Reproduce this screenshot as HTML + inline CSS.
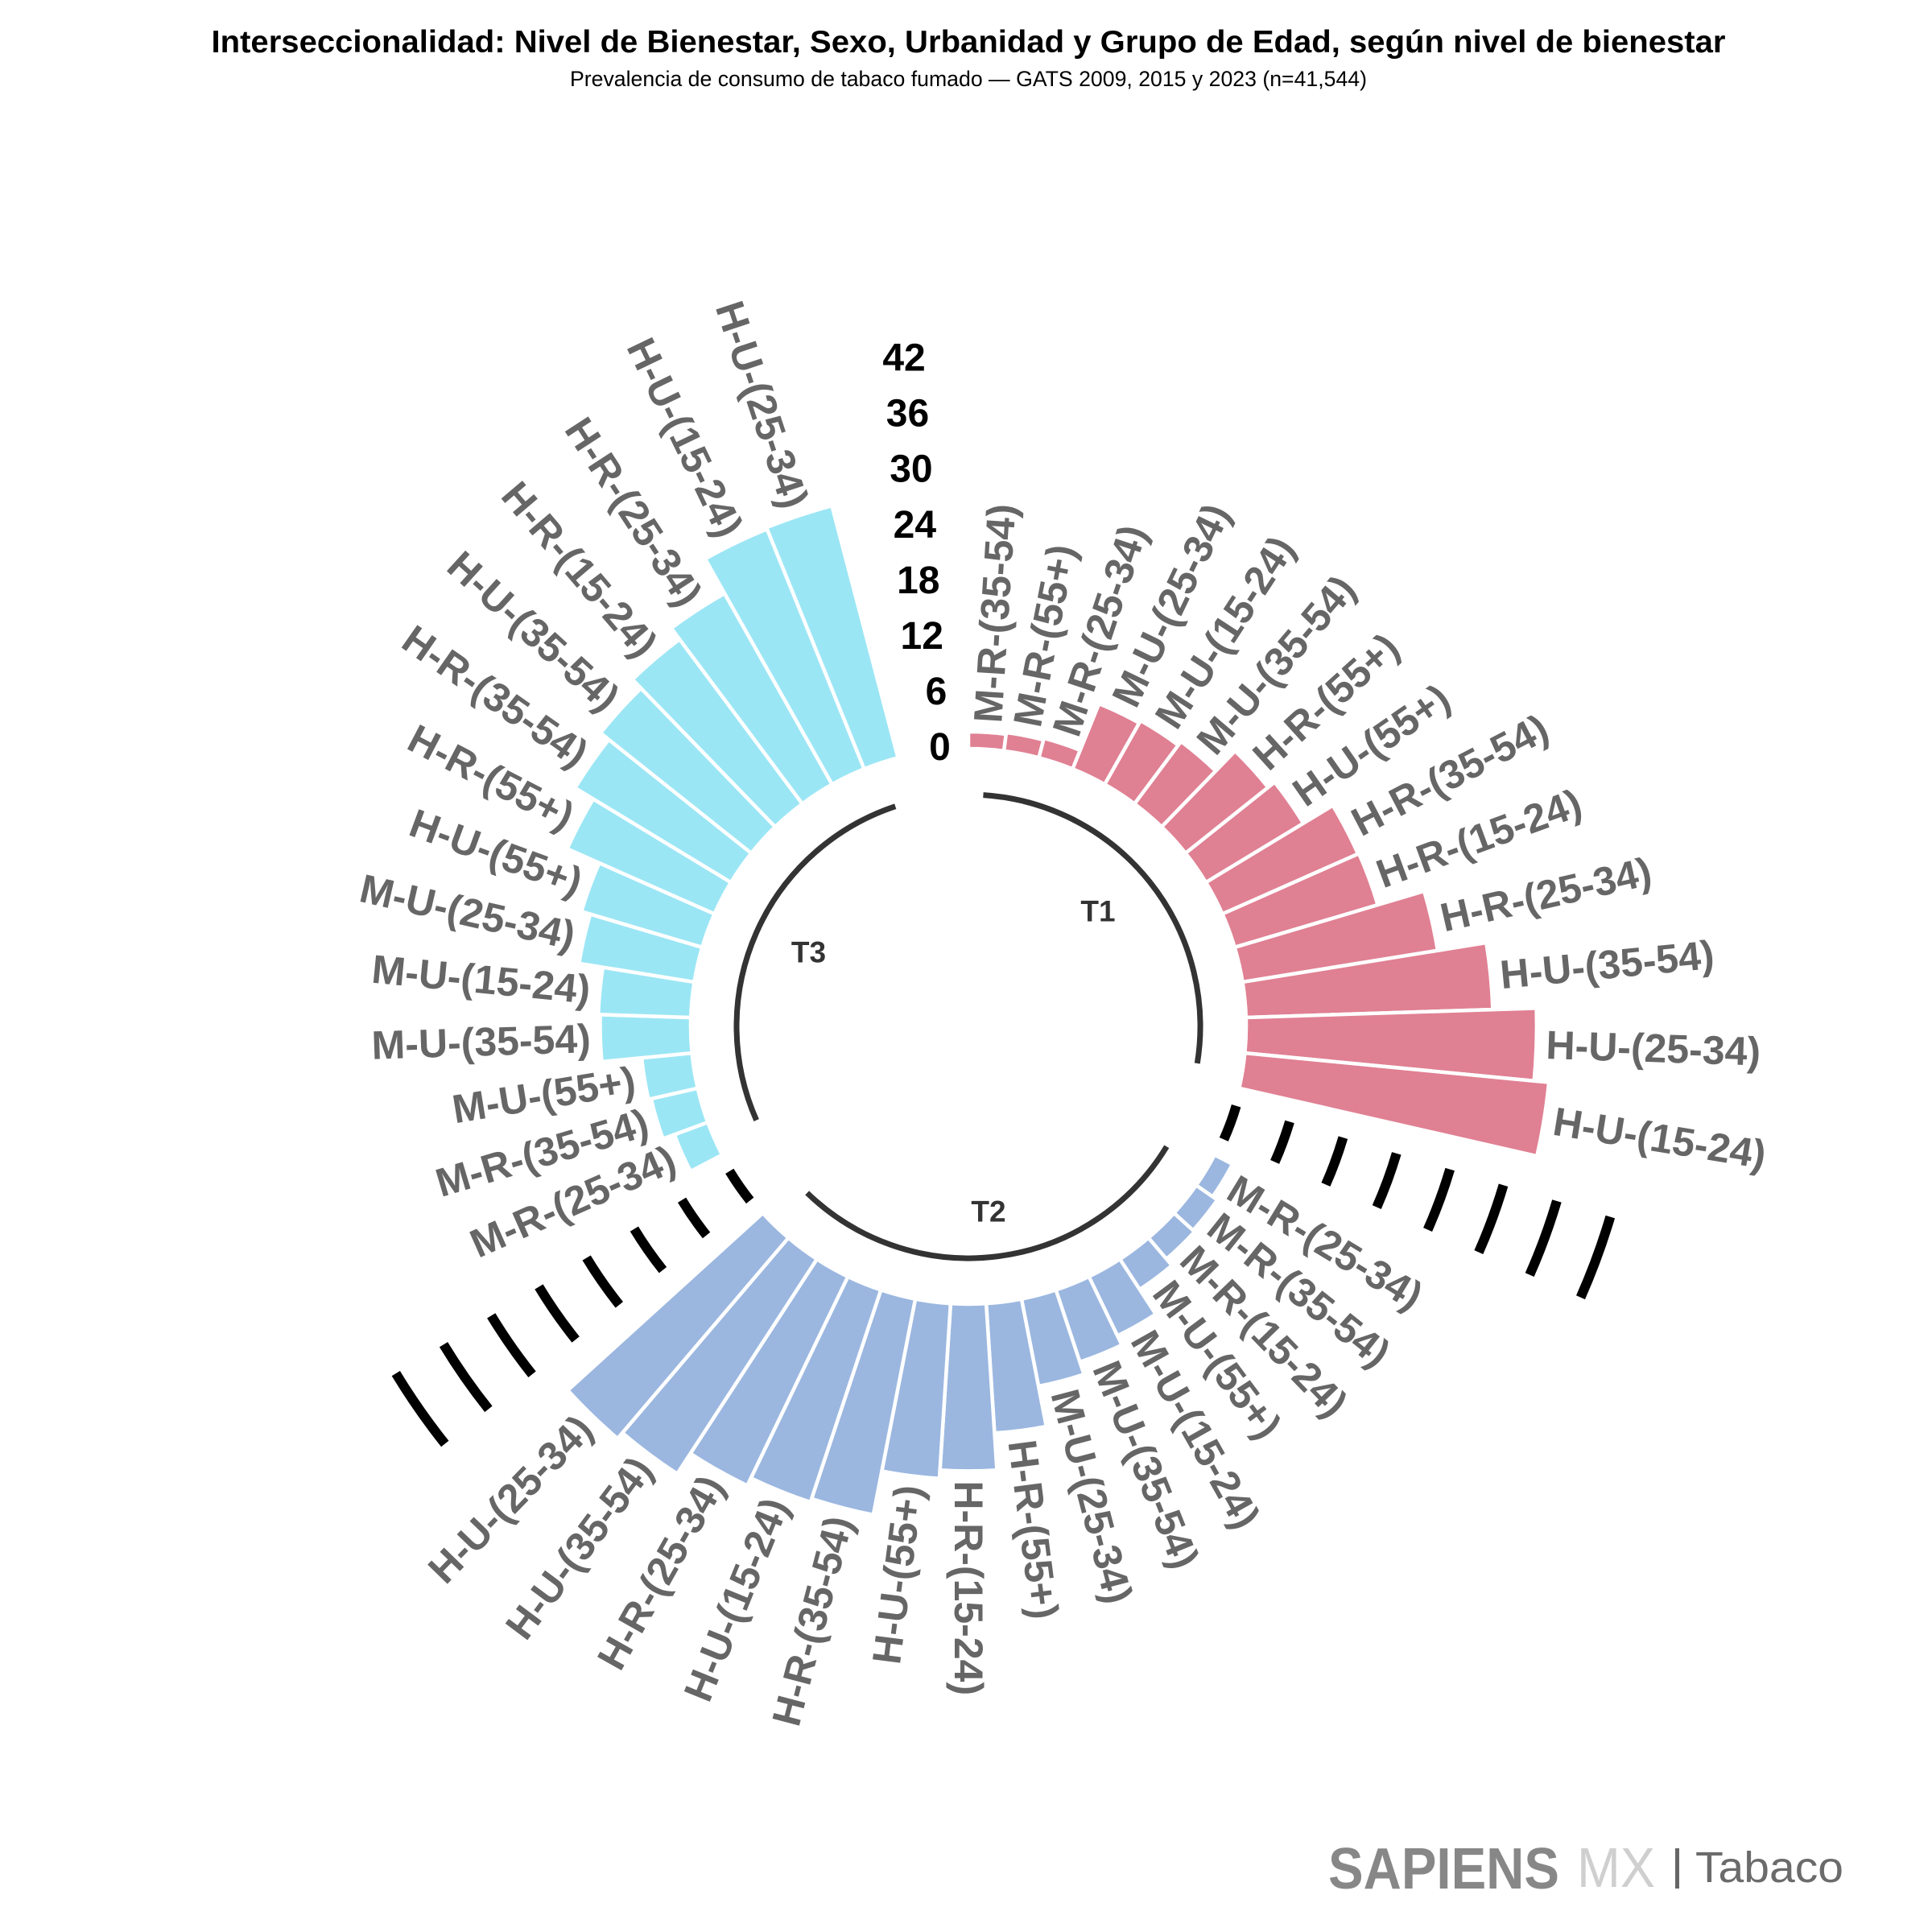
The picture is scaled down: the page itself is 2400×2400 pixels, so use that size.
<!DOCTYPE html>
<html><head><meta charset="utf-8"><style>
html,body{margin:0;padding:0;background:#fff}
svg{display:block}
.lb{font-family:"Liberation Sans",Arial,sans-serif;font-weight:bold;font-size:50px;fill:#666666;dominant-baseline:central}
.e{text-anchor:end}
.yl{font-family:"Liberation Sans",Arial,sans-serif;font-weight:bold;font-size:48px;fill:#000;text-anchor:end;dominant-baseline:central}
.tl{font-family:"Liberation Sans",Arial,sans-serif;font-weight:bold;font-size:37px;fill:#333;text-anchor:middle;dominant-baseline:central}
</style></head><body>
<svg width="2400" height="2400" viewBox="0 0 2400 2400" xmlns="http://www.w3.org/2000/svg">
<rect width="2400" height="2400" fill="#fff"/>
<text x="1203" y="65" text-anchor="middle" font-family="Liberation Sans, Arial, sans-serif" font-weight="bold" font-size="39" textLength="1881" lengthAdjust="spacingAndGlyphs" fill="#000">Interseccionalidad: Nivel de Bienestar, Sexo, Urbanidad y Grupo de Edad, según nivel de bienestar</text>
<text x="1203" y="107" text-anchor="middle" font-family="Liberation Sans, Arial, sans-serif" font-size="27" textLength="990" lengthAdjust="spacingAndGlyphs" fill="#000">Prevalencia de consumo de tabaco fumado — GATS 2009, 2015 y 2023 (n=41,544)</text>
<defs>
<g id="mk" fill="none" stroke="#000" stroke-width="12">
<path d="M-22.23-346.29A347 347 0 0 1 22.23-346.29"/>
<path d="M-26.67-415.38A416.24 416.24 0 0 1 26.67-415.38"/>
<path d="M-31.10-484.48A485.48 485.48 0 0 1 31.10-484.48"/>
<path d="M-35.54-553.58A554.72 554.72 0 0 1 35.54-553.58"/>
<path d="M-39.98-622.68A623.96 623.96 0 0 1 39.98-622.68"/>
<path d="M-44.41-691.78A693.2 693.2 0 0 1 44.41-691.78"/>
<path d="M-48.85-760.87A762.44 762.44 0 0 1 48.85-760.87"/>
<path d="M-53.29-829.97A831.68 831.68 0 0 1 53.29-829.97"/>
</g>
</defs>
<g transform="translate(1203,1275)">
<g fill="#E08093" stroke="#fff" stroke-width="4.5">
<path transform="rotate(3.673)" d="M-22.1-344.29L-23.45-365.25A366 366 0 0 1 23.45-365.25L22.1-344.29A345 345 0 0 0-22.1-344.29Z"/>
<path transform="rotate(11.020)" d="M-22.1-344.29L-23.58-367.24A368 368 0 0 1 23.58-367.24L22.1-344.29A345 345 0 0 0-22.1-344.29Z"/>
<path transform="rotate(18.367)" d="M-22.1-344.29L-23.71-369.24A370 370 0 0 1 23.71-369.24L22.1-344.29A345 345 0 0 0-22.1-344.29Z"/>
<path transform="rotate(25.714)" d="M-22.1-344.29L-27.71-431.61A432.5 432.5 0 0 1 27.71-431.61L22.1-344.29A345 345 0 0 0-22.1-344.29Z"/>
<path transform="rotate(33.061)" d="M-22.1-344.29L-27.93-435.00A435.9 435.9 0 0 1 27.93-435.00L22.1-344.29A345 345 0 0 0-22.1-344.29Z"/>
<path transform="rotate(40.408)" d="M-22.1-344.29L-28.29-440.69A441.6 441.6 0 0 1 28.29-440.69L22.1-344.29A345 345 0 0 0-22.1-344.29Z"/>
<path transform="rotate(47.755)" d="M-22.1-344.29L-30.51-475.22A476.2 476.2 0 0 1 30.51-475.22L22.1-344.29A345 345 0 0 0-22.1-344.29Z"/>
<path transform="rotate(55.102)" d="M-22.1-344.29L-31.18-485.60A486.6 486.6 0 0 1 31.18-485.60L22.1-344.29A345 345 0 0 0-22.1-344.29Z"/>
<path transform="rotate(62.449)" d="M-22.1-344.29L-33.91-528.21A529.3 529.3 0 0 1 33.91-528.21L22.1-344.29A345 345 0 0 0-22.1-344.29Z"/>
<path transform="rotate(69.796)" d="M-22.1-344.29L-33.99-529.41A530.5 530.5 0 0 1 33.99-529.41L22.1-344.29A345 345 0 0 0-22.1-344.29Z"/>
<path transform="rotate(77.143)" d="M-22.1-344.29L-37.83-589.29A590.5 590.5 0 0 1 37.83-589.29L22.1-344.29A345 345 0 0 0-22.1-344.29Z"/>
<path transform="rotate(84.490)" d="M-22.1-344.29L-41.75-650.36A651.7 651.7 0 0 1 41.75-650.36L22.1-344.29A345 345 0 0 0-22.1-344.29Z"/>
<path transform="rotate(91.837)" d="M-22.1-344.29L-45.23-704.45A705.9 705.9 0 0 1 45.23-704.45L22.1-344.29A345 345 0 0 0-22.1-344.29Z"/>
<path transform="rotate(99.184)" d="M-22.1-344.29L-46.41-722.91A724.4 724.4 0 0 1 46.41-722.91L22.1-344.29A345 345 0 0 0-22.1-344.29Z"/>
</g>
<g fill="#9BB7E0" stroke="#fff" stroke-width="4.5">
<path transform="rotate(121.224)" d="M-22.1-344.29L-23.71-369.24A370 370 0 0 1 23.71-369.24L22.1-344.29A345 345 0 0 0-22.1-344.29Z"/>
<path transform="rotate(128.571)" d="M-22.1-344.29L-24.15-376.23A377 377 0 0 1 24.15-376.23L22.1-344.29A345 345 0 0 0-22.1-344.29Z"/>
<path transform="rotate(135.918)" d="M-22.1-344.29L-24.31-378.72A379.5 379.5 0 0 1 24.31-378.72L22.1-344.29A345 345 0 0 0-22.1-344.29Z"/>
<path transform="rotate(143.265)" d="M-22.1-344.29L-24.99-389.20A390 390 0 0 1 24.99-389.20L22.1-344.29A345 345 0 0 0-22.1-344.29Z"/>
<path transform="rotate(150.612)" d="M-22.1-344.29L-27.33-425.72A426.6 426.6 0 0 1 27.33-425.72L22.1-344.29A345 345 0 0 0-22.1-344.29Z"/>
<path transform="rotate(157.959)" d="M-22.1-344.29L-28.15-438.40A439.3 439.3 0 0 1 28.15-438.40L22.1-344.29A345 345 0 0 0-22.1-344.29Z"/>
<path transform="rotate(165.306)" d="M-22.1-344.29L-29.18-454.56A455.5 455.5 0 0 1 29.18-454.56L22.1-344.29A345 345 0 0 0-22.1-344.29Z"/>
<path transform="rotate(172.653)" d="M-22.1-344.29L-32.44-505.26A506.3 506.3 0 0 1 32.44-505.26L22.1-344.29A345 345 0 0 0-22.1-344.29Z"/>
<path transform="rotate(180)" d="M-22.1-344.29L-35.39-551.26A552.4 552.4 0 0 1 35.39-551.26L22.1-344.29A345 345 0 0 0-22.1-344.29Z"/>
<path transform="rotate(187.347)" d="M-22.1-344.29L-36.06-561.64A562.8 562.8 0 0 1 36.06-561.64L22.1-344.29A345 345 0 0 0-22.1-344.29Z"/>
<path transform="rotate(194.694)" d="M-22.1-344.29L-39.61-616.93A618.2 618.2 0 0 1 39.61-616.93L22.1-344.29A345 345 0 0 0-22.1-344.29Z"/>
<path transform="rotate(202.041)" d="M-22.1-344.29L-39.90-621.52A622.8 622.8 0 0 1 39.90-621.52L22.1-344.29A345 345 0 0 0-22.1-344.29Z"/>
<path transform="rotate(209.388)" d="M-22.1-344.29L-40.57-631.90A633.2 633.2 0 0 1 40.57-631.90L22.1-344.29A345 345 0 0 0-22.1-344.29Z"/>
<path transform="rotate(216.735)" d="M-22.1-344.29L-42.49-661.84A663.2 663.2 0 0 1 42.49-661.84L22.1-344.29A345 345 0 0 0-22.1-344.29Z"/>
<path transform="rotate(224.082)" d="M-22.1-344.29L-43.08-671.02A672.4 672.4 0 0 1 43.08-671.02L22.1-344.29A345 345 0 0 0-22.1-344.29Z"/>
</g>
<g fill="#9BE6F5" stroke="#fff" stroke-width="4.5">
<path transform="rotate(246.122)" d="M-22.1-344.29L-24.94-388.50A389.3 389.3 0 0 1 24.94-388.50L22.1-344.29A345 345 0 0 0-22.1-344.29Z"/>
<path transform="rotate(253.469)" d="M-22.1-344.29L-25.90-403.47A404.3 404.3 0 0 1 25.90-403.47L22.1-344.29A345 345 0 0 0-22.1-344.29Z"/>
<path transform="rotate(260.816)" d="M-22.1-344.29L-26.12-406.86A407.7 407.7 0 0 1 26.12-406.86L22.1-344.29A345 345 0 0 0-22.1-344.29Z"/>
<path transform="rotate(268.163)" d="M-22.1-344.29L-29.31-456.56A457.5 457.5 0 0 1 29.31-456.56L22.1-344.29A345 345 0 0 0-22.1-344.29Z"/>
<path transform="rotate(275.510)" d="M-22.1-344.29L-29.47-459.05A460 460 0 0 1 29.47-459.05L22.1-344.29A345 345 0 0 0-22.1-344.29Z"/>
<path transform="rotate(282.857)" d="M-22.1-344.29L-31.39-488.99A490 490 0 0 1 31.39-488.99L22.1-344.29A345 345 0 0 0-22.1-344.29Z"/>
<path transform="rotate(290.204)" d="M-22.1-344.29L-32.13-500.47A501.5 501.5 0 0 1 32.13-500.47L22.1-344.29A345 345 0 0 0-22.1-344.29Z"/>
<path transform="rotate(297.551)" d="M-22.1-344.29L-34.92-543.88A545 545 0 0 1 34.92-543.88L22.1-344.29A345 345 0 0 0-22.1-344.29Z"/>
<path transform="rotate(304.898)" d="M-22.1-344.29L-36.61-570.23A571.4 571.4 0 0 1 36.61-570.23L22.1-344.29A345 345 0 0 0-22.1-344.29Z"/>
<path transform="rotate(312.245)" d="M-22.1-344.29L-37.46-583.40A584.6 584.6 0 0 1 37.46-583.40L22.1-344.29A345 345 0 0 0-22.1-344.29Z"/>
<path transform="rotate(319.592)" d="M-22.1-344.29L-38.44-598.77A600 600 0 0 1 38.44-598.77L22.1-344.29A345 345 0 0 0-22.1-344.29Z"/>
<path transform="rotate(326.939)" d="M-22.1-344.29L-39.54-615.93A617.2 617.2 0 0 1 39.54-615.93L22.1-344.29A345 345 0 0 0-22.1-344.29Z"/>
<path transform="rotate(334.286)" d="M-22.1-344.29L-42.70-665.13A666.5 666.5 0 0 1 42.70-665.13L22.1-344.29A345 345 0 0 0-22.1-344.29Z"/>
<path transform="rotate(341.633)" d="M-22.1-344.29L-42.83-667.13A668.5 668.5 0 0 1 42.83-667.13L22.1-344.29A345 345 0 0 0-22.1-344.29Z"/>
</g>
<use href="#mk" transform="rotate(110.204)"/>
<use href="#mk" transform="rotate(235.102)"/>
<g fill="none" stroke="#333" stroke-width="7">
<path d="M18.45-287.41A288 288 0 0 1 284.31 45.97"/>
<path d="M246.27 149.30A288 288 0 0 1-200.36 206.88"/>
<path d="M-263.35 116.59A288 288 0 0 1-90.75-273.33"/>
</g>
<text class="tl" x="161" y="-143">T1</text>
<text class="tl" x="25" y="230">T2</text>
<text class="tl" x="-198.5" y="-92">T3</text>
<text class="yl" x="-22.23" y="-346.29">0</text>
<text class="yl" x="-26.67" y="-415.38">6</text>
<text class="yl" x="-31.10" y="-484.48">12</text>
<text class="yl" x="-35.54" y="-553.58">18</text>
<text class="yl" x="-39.98" y="-622.68">24</text>
<text class="yl" x="-44.41" y="-691.78">30</text>
<text class="yl" x="-48.85" y="-760.87">36</text>
<text class="yl" x="-53.29" y="-829.97">42</text>
<g class="lb">
<text transform="rotate(3.673) translate(0,-378) rotate(-90)">M-R-(35-54)</text>
<text transform="rotate(11.020) translate(0,-380) rotate(-90)">M-R-(55+)</text>
<text transform="rotate(18.367) translate(0,-382) rotate(-90)">M-R-(25-34)</text>
<text transform="rotate(25.714) translate(0,-444.5) rotate(-90)">M-U-(25-34)</text>
<text transform="rotate(33.061) translate(0,-448) rotate(-90)">M-U-(15-24)</text>
<text transform="rotate(40.408) translate(0,-453.6) rotate(-90)">M-U-(35-54)</text>
<text transform="rotate(47.755) translate(0,-488.2) rotate(-90)">H-R-(55+)</text>
<text transform="rotate(55.102) translate(0,-498.6) rotate(-90)">H-U-(55+)</text>
<text transform="rotate(62.449) translate(0,-541.3) rotate(-90)">H-R-(35-54)</text>
<text transform="rotate(69.796) translate(0,-542.5) rotate(-90)">H-R-(15-24)</text>
<text transform="rotate(77.143) translate(0,-602.5) rotate(-90)">H-R-(25-34)</text>
<text transform="rotate(84.490) translate(0,-663.7) rotate(-90)">H-U-(35-54)</text>
<text transform="rotate(91.837) translate(0,-717.9) rotate(-90)">H-U-(25-34)</text>
<text transform="rotate(99.184) translate(0,-736.4) rotate(-90)">H-U-(15-24)</text>
<text transform="rotate(121.224) translate(0,-382) rotate(-90)">M-R-(25-34)</text>
<text transform="rotate(128.571) translate(0,-389) rotate(-90)">M-R-(35-54)</text>
<text transform="rotate(135.918) translate(0,-391.5) rotate(-90)">M-R-(15-24)</text>
<text transform="rotate(143.265) translate(0,-402) rotate(-90)">M-U-(55+)</text>
<text transform="rotate(150.612) translate(0,-438.6) rotate(-90)">M-U-(15-24)</text>
<text transform="rotate(157.959) translate(0,-451.3) rotate(-90)">M-U-(35-54)</text>
<text transform="rotate(165.306) translate(0,-467.5) rotate(-90)">M-U-(25-34)</text>
<text transform="rotate(172.653) translate(0,-518.3) rotate(-90)">H-R-(55+)</text>
<text transform="rotate(180) translate(0,-564.4) rotate(-90)">H-R-(15-24)</text>
<text class="e" transform="rotate(187.347) translate(0,-574.8) rotate(90)">H-U-(55+)</text>
<text class="e" transform="rotate(194.694) translate(0,-630.2) rotate(90)">H-R-(35-54)</text>
<text class="e" transform="rotate(202.041) translate(0,-634.8) rotate(90)">H-U-(15-24)</text>
<text class="e" transform="rotate(209.388) translate(0,-645.2) rotate(90)">H-R-(25-34)</text>
<text class="e" transform="rotate(216.735) translate(0,-675.2) rotate(90)">H-U-(35-54)</text>
<text class="e" transform="rotate(224.082) translate(0,-684.4) rotate(90)">H-U-(25-34)</text>
<text class="e" transform="rotate(246.122) translate(0,-401.3) rotate(90)">M-R-(25-34)</text>
<text class="e" transform="rotate(253.469) translate(0,-416.3) rotate(90)">M-R-(35-54)</text>
<text class="e" transform="rotate(260.816) translate(0,-419.7) rotate(90)">M-U-(55+)</text>
<text class="e" transform="rotate(268.163) translate(0,-469.5) rotate(90)">M-U-(35-54)</text>
<text class="e" transform="rotate(275.510) translate(0,-472) rotate(90)">M-U-(15-24)</text>
<text class="e" transform="rotate(282.857) translate(0,-502) rotate(90)">M-U-(25-34)</text>
<text class="e" transform="rotate(290.204) translate(0,-513.5) rotate(90)">H-U-(55+)</text>
<text class="e" transform="rotate(297.551) translate(0,-557) rotate(90)">H-R-(55+)</text>
<text class="e" transform="rotate(304.898) translate(0,-583.4) rotate(90)">H-R-(35-54)</text>
<text class="e" transform="rotate(312.245) translate(0,-596.6) rotate(90)">H-U-(35-54)</text>
<text class="e" transform="rotate(319.592) translate(0,-612) rotate(90)">H-R-(15-24)</text>
<text class="e" transform="rotate(326.939) translate(0,-629.2) rotate(90)">H-R-(25-34)</text>
<text class="e" transform="rotate(334.286) translate(0,-678.5) rotate(90)">H-U-(15-24)</text>
<text class="e" transform="rotate(341.633) translate(0,-680.5) rotate(90)">H-U-(25-34)</text>
</g>
</g>
<text x="1650" y="2346" font-family="Liberation Sans, Arial, sans-serif" font-weight="bold" font-size="72" textLength="287" lengthAdjust="spacingAndGlyphs" fill="#878787">SAPIENS</text>
<text x="1959" y="2344" font-family="Liberation Sans, Arial, sans-serif" font-size="70" textLength="97" lengthAdjust="spacingAndGlyphs" fill="#cfcfcf">MX</text>
<rect x="2081" y="2296" width="5" height="50" fill="#666"/>
<text x="2106" y="2338" font-family="Liberation Sans, Arial, sans-serif" font-size="54" textLength="184" lengthAdjust="spacingAndGlyphs" fill="#6b6b6b">Tabaco</text>
</svg>
</body></html>
